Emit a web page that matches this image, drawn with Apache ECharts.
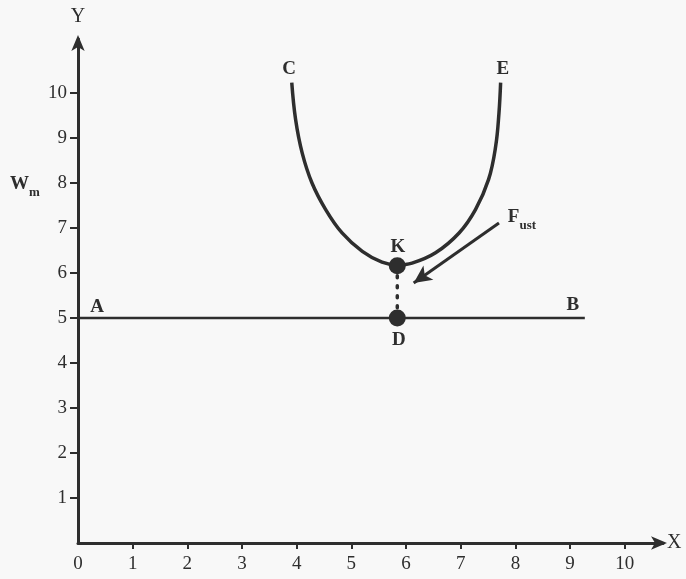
<!DOCTYPE html>
<html>
<head>
<meta charset="utf-8">
<script src="https://cdn.jsdelivr.net/npm/echarts@6/dist/echarts.min.js"></script>
<style>
html,body{margin:0;padding:0;background:#f8f8f8;}
#chart{width:686px;height:579px;}
</style>
</head>
<body>
<div id="chart"></div>
<script>
// Tick labels
var xTicks = [0,1,2,3,4,5,6,7,8,9,10];
var yTicks = [1,2,3,4,5,6,7,8,9,10];
// Curve CKE (U-shaped)
var curveX = [3.91, 3.98, 4.10, 4.28, 4.53, 4.83, 5.20, 5.56, 5.84, 6.11, 6.54, 6.97, 7.27, 7.51, 7.64, 7.70, 7.73];
var curveY = [10.23, 9.41, 8.67, 8.00, 7.41, 6.89, 6.48, 6.24, 6.18, 6.22, 6.45, 6.89, 7.41, 8.08, 8.82, 9.56, 10.23];
// Line AB
var lineABX = [0, 9.27];
var lineABY = [5, 5];
// Points K and D
var pointNames = ['K', 'D'];
var pointX = [5.84, 5.84];
var pointY = [6.16, 5];
// F_ust arrow (start, end)
var arrowX = [7.70, 6.14];
var arrowY = [7.11, 5.78];
// Text labels
var labelNames = ['A', 'B', 'C', 'E', 'K', 'D', 'F_ust', 'W_m'];
var labelX = [0.35, 9.05, 3.86, 7.77, 5.85, 5.87, 8.12, -0.97];
var labelY = [5.28, 5.32, 10.56, 10.56, 6.62, 4.55, 7.27, 8.0];

var ink = '#2e2e2e';
var font = 'Liberation Serif';

function zip(a, b) { return a.map(function (v, i) { return [v, b[i]]; }); }

var labelData = labelNames.map(function (n, i) { return [labelX[i], labelY[i], n]; });

var chart = echarts.init(document.getElementById('chart'));
chart.setOption({
  backgroundColor: '#f8f8f8',
  animation: false,
  grid: { left: 78, top: 39, width: 585, bottom: 36, containLabel: false },
  xAxis: {
    type: 'value', min: 0, max: 10.7, interval: 1,
    name: 'X', nameLocation: 'end', nameGap: 4,
    nameTextStyle: { color: ink, fontFamily: font, fontSize: 20, verticalAlign: 'middle' },
    splitLine: { show: false },
    axisLine: { lineStyle: { color: ink, width: 3 }, symbol: ['none', 'arrow'], symbolSize: [10, 16], symbolOffset: [0, 4] },
    axisTick: { show: true, inside: false, length: 6, lineStyle: { color: ink, width: 2 }, customValues: xTicks.slice(1) },
    axisLabel: { color: ink, fontFamily: font, fontSize: 19, margin: 12, customValues: xTicks }
  },
  yAxis: {
    type: 'value', min: 0, max: 11.2, interval: 1,
    name: 'Y', nameLocation: 'end', nameGap: 12,
    nameTextStyle: { color: ink, fontFamily: font, fontSize: 20 },
    splitLine: { show: false },
    axisLine: { lineStyle: { color: ink, width: 3 }, symbol: ['none', 'arrow'], symbolSize: [10, 16], symbolOffset: [0, 4] },
    axisTick: { show: true, length: 8, lineStyle: { color: ink, width: 2 }, customValues: yTicks },
    axisLabel: { color: ink, fontFamily: font, fontSize: 19, margin: 11, customValues: yTicks }
  },
  series: [
    {
      name: 'AB', type: 'line', data: zip(lineABX, lineABY), symbol: 'none',
      lineStyle: { color: ink, width: 2.5 }
    },
    {
      name: 'CKE', type: 'line', data: zip(curveX, curveY), symbol: 'none', smooth: 0.4,
      lineStyle: { color: ink, width: 3.5 }
    },
    {
      name: 'KD', type: 'line', data: zip(pointX, pointY), symbol: 'none',
      lineStyle: { color: ink, width: 3.5, type: [2, 8], cap: 'round' }
    },
    {
      name: 'points', type: 'scatter', data: zip(pointX, pointY), symbolSize: 17,
      itemStyle: { color: ink, opacity: 1 }, z: 5
    },
    {
      name: 'arrow', type: 'line', data: [], symbol: 'none',
      markLine: {
        silent: true, symbol: ['none', 'arrow'], symbolSize: [13, 18],
        lineStyle: { color: ink, width: 3, type: 'solid', opacity: 1 },
        label: { show: false },
        data: [[{ coord: [arrowX[0], arrowY[0]] }, { coord: [arrowX[1], arrowY[1]] }]]
      }
    },
    {
      name: 'labels', type: 'scatter', data: labelData, symbolSize: 0, clip: false, z: 6,
      itemStyle: { opacity: 1 },
      label: {
        show: true, position: 'inside', color: ink, fontFamily: font, fontSize: 19, fontWeight: 'bold',
        formatter: function (p) {
          var n = p.data[2];
          if (n.indexOf('_') > 0) {
            var parts = n.split('_');
            return '{b|' + parts[0] + '}{s|' + parts[1] + '}';
          }
          return '{b|' + n + '}';
        },
        rich: {
          b: { fontFamily: font, fontSize: 19, fontWeight: 'bold', color: ink, lineHeight: 22, verticalAlign: 'bottom' },
          s: { fontFamily: font, fontSize: 13, fontWeight: 'bold', color: ink, lineHeight: 22, verticalAlign: 'bottom', padding: [0, 0, -5, 0] }
        }
      }
    }
  ]
});
</script>
</body>
</html>
